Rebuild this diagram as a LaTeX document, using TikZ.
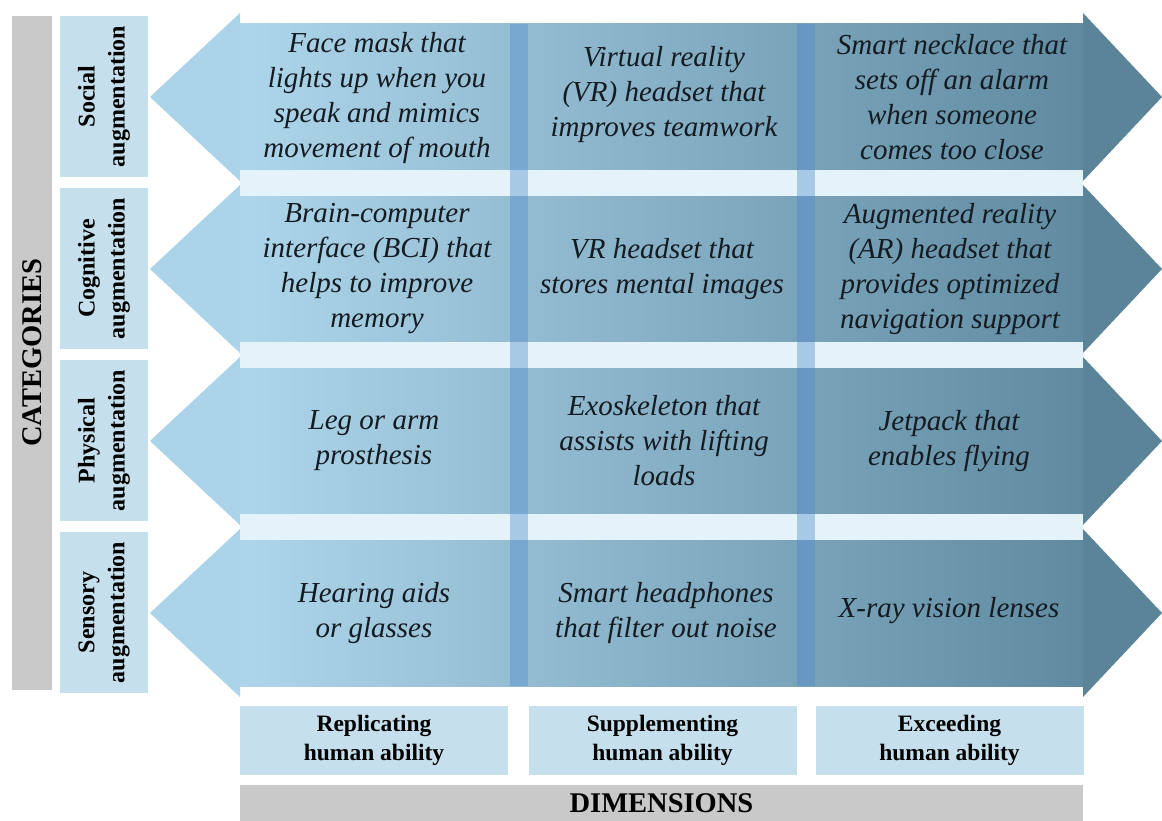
\documentclass[tikz,border=0pt]{standalone}
\usepackage{fontspec}
\setmainfont{Liberation Serif}
\definecolor{headL}{HTML}{ABD4EB}
\definecolor{bodyL}{HTML}{AED6EB}
\definecolor{bodyR}{HTML}{5F8AA0}
\definecolor{headR}{HTML}{5B8499}
\definecolor{stripc}{HTML}{E4F2F9}
\definecolor{sepA}{HTML}{78A8CF}
\definecolor{sepB}{HTML}{6898C2}
\definecolor{sepS}{HTML}{A8C9E6}
\definecolor{catbox}{HTML}{C6DFEC}
\definecolor{grayb}{HTML}{C9C9C9}
\definecolor{txt}{HTML}{141B22}
\begin{document}
\begin{tikzpicture}[x=1pt,y=-1pt,
  celltext/.style={font=\fontsize{29}{35}\selectfont\itshape, text=txt, align=center, inner sep=0pt},
  catlabel/.style={fill=catbox, rotate=90, minimum width=161pt, minimum height=88pt, inner sep=0pt, align=center, font=\fontsize{24}{30}\selectfont\bfseries, text=black},
  dimlabel/.style={fill=catbox, minimum width=268pt, minimum height=69pt, inner sep=0pt, align=center, font=\fontsize{23.5}{29}\selectfont\bfseries, text=black},
  graybar/.style={fill=grayb, inner sep=0pt, font=\fontsize{28.5}{34}\selectfont\bfseries, text=black}]
\useasboundingbox (0,0) rectangle (1162,821);
% arrows
\foreach \i in {0,...,3}{
  \pgfmathsetmacro\c{97+172*\i}
  \fill[headL] (240,\c-84) -- (150,\c) -- (240,\c+84) -- cycle;
  \fill[headR] (1083,\c-84) -- (1162,\c) -- (1083,\c+84) -- cycle;
  \shade[left color=bodyL, right color=bodyR] (240,\c-73) rectangle (1083,\c+73);
  \fill[sepA] (510,\c-73) rectangle (528,\c+73);
  \fill[sepB] (797,\c-73) rectangle (815,\c+73);
}
\foreach \i in {0,...,2}{
  \pgfmathsetmacro\c{97+172*\i}
  \fill[stripc] (240,\c+73) rectangle (1083,\c+99);
  \fill[sepS] (510,\c+73) rectangle (528,\c+99);
  \fill[sepS] (797,\c+73) rectangle (815,\c+99);
}
% cell texts
\node[celltext] (r1c1) at (377,98) {Face mask that\\lights up when you\\speak and mimics\\movement of mouth};
\node[celltext] (r1c2) at (664,95) {Virtual reality\\(VR) headset that\\improves teamwork};
\node[celltext] (r1c3) at (952,97) {Smart necklace that\\sets off an alarm\\when someone\\comes too close};
\node[celltext] (r2c1) at (377,269) {Brain-computer\\interface (BCI) that\\helps to improve\\memory};
\node[celltext] (r2c2) at (662,269) {VR headset that\\stores mental images};
\node[celltext] (r2c3) at (950,269) {Augmented reality\\(AR) headset that\\provides optimized\\navigation support};
\node[celltext] (r3c1) at (374,441) {Leg or arm\\prosthesis};
\node[celltext] (r3c2) at (664,441) {Exoskeleton that\\assists with lifting\\loads};
\node[celltext] (r3c3) at (949,441) {Jetpack that\\enables flying};
\node[celltext] (r4c1) at (374,613) {Hearing aids\\or glasses};
\node[celltext] (r4c2) at (666,613) {Smart headphones\\that filter out noise};
\node[celltext] (r4c3) at (949,611) {X-ray vision lenses};
% category labels
\node[catlabel] (cat1) at (104,96.5) {Social\\augmentation};
\node[catlabel] (cat2) at (104,268.5) {Cognitive\\augmentation};
\node[catlabel] (cat3) at (104,440.5) {Physical\\augmentation};
\node[catlabel] (cat4) at (104,612.5) {Sensory\\augmentation};
\node[graybar, rotate=90, minimum width=674pt, minimum height=40pt] (categories) at (32,353) {CATEGORIES};
% dimension labels
\node[dimlabel] (dim1) at (374,740) {Replicating\\human ability};
\node[dimlabel] (dim2) at (662.5,740) {Supplementing\\human ability};
\node[dimlabel] (dim3) at (949.5,740) {Exceeding\\human ability};
\node[graybar, minimum width=843pt, minimum height=36pt] (dimensions) at (661.5,803) {DIMENSIONS};
\end{tikzpicture}
\end{document}
